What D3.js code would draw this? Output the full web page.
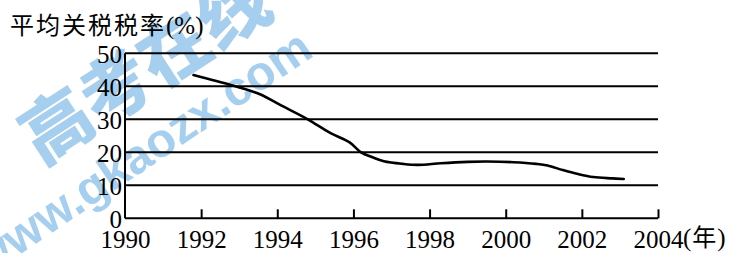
<!DOCTYPE html>
<html><head><meta charset="utf-8">
<script src="https://cdn.jsdelivr.net/npm/d3@7"></script>
<style>html,body{margin:0;padding:0;background:#fff;}svg{display:block;}
.sf{font-family:"Liberation Serif","Times New Roman",serif;}
</style>
</head><body>
<svg id="chart" width="737" height="253"></svg>
<script>
const years = [1991.8,1992.8,1993.5,1994.1,1994.8,1995.4,1995.9,1996.2,1996.5,1996.8,1997.3,1997.7,1998.3,1999.0,1999.5,2000.2,2000.8,2001.1,2001.5,2001.9,2002.3,2002.8,2003.1];
const rates = [43.4,40.3,37.8,34.2,30.0,25.8,23.0,20.0,18.5,17.3,16.5,16.2,16.7,17.1,17.2,17.0,16.5,16.0,14.6,13.4,12.5,12.1,11.9];
const xTicks = [1990,1992,1994,1996,1998,2000,2002,2004];
const yTicks = [0,10,20,30,40,50];
const yTitle = "平均关税税率";
const yUnit = "(%)";
const xUnit = "年";

const svg = d3.select("#chart");
const x = d3.scaleLinear().domain([1990,2004]).range([125,658]);
const y = d3.scaleLinear().domain([0,50]).range([218.3,53.3]);
const cjk = "'Noto Sans CJK SC',sans-serif";

// watermark
const wm = svg.append("g").attr("fill","#a6cfef");
wm.append("text").attr("transform","translate(57,126) rotate(-33)")
  .attr("x",-35).attr("y",25).attr("font-family",cjk).attr("font-weight","900")
  .attr("font-size",70).text("高考在线");
wm.append("text").attr("transform","translate(306,41) rotate(-34)")
  .attr("x",0).attr("y",17).attr("text-anchor","end")
  .attr("font-family","'Liberation Sans',Arial,sans-serif").attr("font-weight","bold")
  .attr("font-size",48).text("www.gkaozx.com");

// gridlines
svg.append("g").selectAll("line").data(yTicks.filter(d=>d>0)).join("line")
  .attr("x1",x(1990)).attr("x2",x(2004)).attr("y1",d=>y(d)).attr("y2",d=>y(d))
  .attr("stroke","#000").attr("stroke-width",2);

// axes
const xAxis = d3.axisBottom(x).tickValues(xTicks).tickSize(-9).tickFormat(d3.format("d")).tickPadding(12);
const gx = svg.append("g").attr("transform",`translate(0,${y(0)})`).call(xAxis);
gx.attr("font-family",null).attr("font-size",null);
gx.select(".domain").attr("stroke","#000").attr("stroke-width",2).attr("d",`M${x(1990)},0H${x(2004)}`);
gx.selectAll(".tick line").attr("stroke","#000").attr("stroke-width",2);
gx.selectAll(".tick").filter(d=>d===1990).select("line").remove();
gx.selectAll(".tick text").attr("class","sf").attr("font-size",25).attr("fill","#000").attr("dy","0.71em");

const yAxis = d3.axisLeft(y).tickValues(yTicks).tickSize(0).tickPadding(3);
const gy = svg.append("g").attr("transform",`translate(${x(1990)},0)`).call(yAxis);
gy.attr("font-family",null).attr("font-size",null);
gy.select(".domain").attr("stroke","#000").attr("stroke-width",2).attr("d",`M0,${y(50)}V${y(0)}`);
gy.selectAll(".tick text").attr("class","sf").attr("font-size",25).attr("fill","#000").attr("dy","0.35em");

// line
const pts = years.map((d,i)=>[d,rates[i]]);
svg.append("path").datum(pts)
  .attr("d",d3.line().x(d=>x(d[0])).y(d=>y(d[1])).curve(d3.curveCatmullRom.alpha(0.5)))
  .attr("fill","none").attr("stroke","#000").attr("stroke-width",2.6).attr("stroke-linecap","round");

// titles
const t = svg.append("text").attr("x",10).attr("y",34).attr("fill","#000");
t.append("tspan").attr("font-family",cjk).attr("font-size",24).attr("letter-spacing",2).text(yTitle);
t.append("tspan").attr("class","sf").attr("font-size",25).text(yUnit);

const u = svg.append("text").attr("x",683).attr("y",246).attr("fill","#000");
u.append("tspan").attr("class","sf").attr("font-size",25).text("(");
u.append("tspan").attr("font-family",cjk).attr("font-size",24).attr("dx",1).text(xUnit);
u.append("tspan").attr("class","sf").attr("font-size",25).attr("dx",1).text(")");
</script>
</body></html>
